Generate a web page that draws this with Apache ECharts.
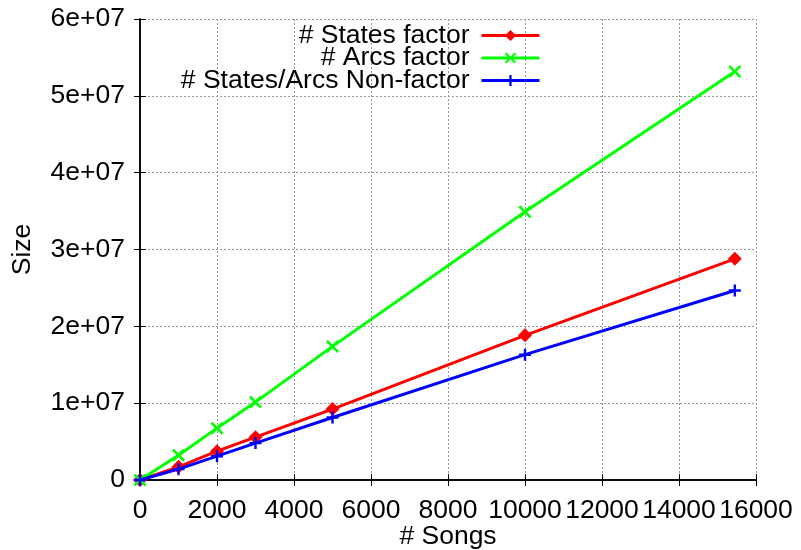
<!DOCTYPE html>
<html>
<head>
<meta charset="utf-8">
<script src="https://cdn.jsdelivr.net/npm/echarts@6/dist/echarts.min.js"></script>
<style>
  html, body { margin: 0; padding: 0; background: #fff; }
  #chart { width: 801px; height: 550px; }
</style>
</head>
<body>
<div id="chart"></div>
<script>
// # Songs vs size
var songs = [0, 1000, 2000, 3000, 5000, 10000, 15450];
var statesFactor = [0, 1.71e6, 3.75e6, 5.58e6, 9.23e6, 1.883e7, 2.879e7];
var arcsFactor = [0, 3.23e6, 6.75e6, 1.014e7, 1.739e7, 3.49e7, 5.317e7];
var nonFactor = [0, 1.41e6, 3.1e6, 4.8e6, 8.14e6, 1.631e7, 2.466e7];
var seriesNames = ["# States factor", "# Arcs factor", "# States/Arcs Non-factor"];
var seriesColors = ["#ff0000", "#00ff00", "#0000ff"];

var FONT = "Liberation Sans";
var FS = 26.5;
var plusPath = "path://M4,0H6V4H10V6H6V10H4V6H0V4H4Z";
var crossPath = "path://M0,1.4L1.4,0L5,3.6L8.6,0L10,1.4L6.4,5L10,8.6L8.6,10L5,6.4L1.4,10L0,8.6L3.6,5Z";
var symbols = ["diamond", crossPath, plusPath];
var symbolSizes = [14, 13, 12];

function pairs(ys) {
    return songs.map(function(x, i) { return [x, ys[i]]; });
}

function yLabel(v) {
    if (v === 0) return "0";
    return (v / 1e7) + "e+07";
}

var chart = echarts.init(document.getElementById("chart"));

var axisLine = { show: true, lineStyle: { color: "#000", width: 1.5 } };
var tickIn = { show: true, inside: true, length: 6, lineStyle: { color: "#000", width: 1 } };
var grid = { show: true, lineStyle: { color: "#999", type: [2, 2], width: 1 } };

var legends = seriesNames.map(function(n, i) {
    return {
        data: [n],
        right: 260,
        top: 22 + i * 22.5,
        padding: 0,
        align: "right",
        itemWidth: 58,
        itemHeight: 14,
        selectedMode: false,
        lineStyle: { width: 3 },
        textStyle: { fontFamily: FONT, fontSize: FS, color: "#000", padding: [0, 7, 0, 0] }
    };
});

var dataSets = [statesFactor, arcsFactor, nonFactor];

chart.setOption({
    animation: false,
    backgroundColor: "#fff",
    legend: legends,
    grid: { left: 140, right: 45, top: 19, bottom: 70, outerBoundsMode: "none" },
    xAxis: [{
        type: "value",
        min: 0, max: 16000, interval: 2000,
        name: "# Songs",
        nameLocation: "middle",
        nameGap: 43,
        nameMoveOverlap: false,
        nameTextStyle: { fontFamily: FONT, fontSize: FS, color: "#000" },
        axisLine: axisLine,
        axisTick: tickIn,
        splitLine: grid,
        axisLabel: { fontFamily: FONT, fontSize: FS, color: "#000", margin: 17,
            formatter: function(v) { return String(v); } }
    }, {
        type: "value", position: "top",
        min: 0, max: 16000, interval: 2000,
        axisLine: axisLine, axisTick: tickIn,
        axisLabel: { show: false }, splitLine: { show: false }
    }],
    yAxis: [{
        type: "value",
        min: 0, max: 6e7, interval: 1e7,
        name: "Size",
        nameLocation: "middle",
        nameGap: 104,
        nameMoveOverlap: false,
        nameTextStyle: { fontFamily: FONT, fontSize: FS, color: "#000" },
        axisLine: axisLine,
        axisTick: tickIn,
        splitLine: grid,
        axisLabel: { fontFamily: FONT, fontSize: FS, color: "#000", margin: 15, formatter: yLabel }
    }, {
        type: "value", position: "right",
        min: 0, max: 6e7, interval: 1e7,
        axisLine: axisLine, axisTick: tickIn,
        axisLabel: { show: false }, splitLine: { show: false }
    }],
    series: seriesNames.map(function(n, i) {
        return {
            name: n,
            type: "line",
            data: pairs(dataSets[i]),
            symbol: symbols[i],
            symbolSize: symbolSizes[i],
            showAllSymbol: true,
            clip: false,
            lineStyle: { color: seriesColors[i], width: 3 },
            itemStyle: { color: seriesColors[i] },
            z: 2 + i
        };
    })
});
</script>
</body>
</html>
